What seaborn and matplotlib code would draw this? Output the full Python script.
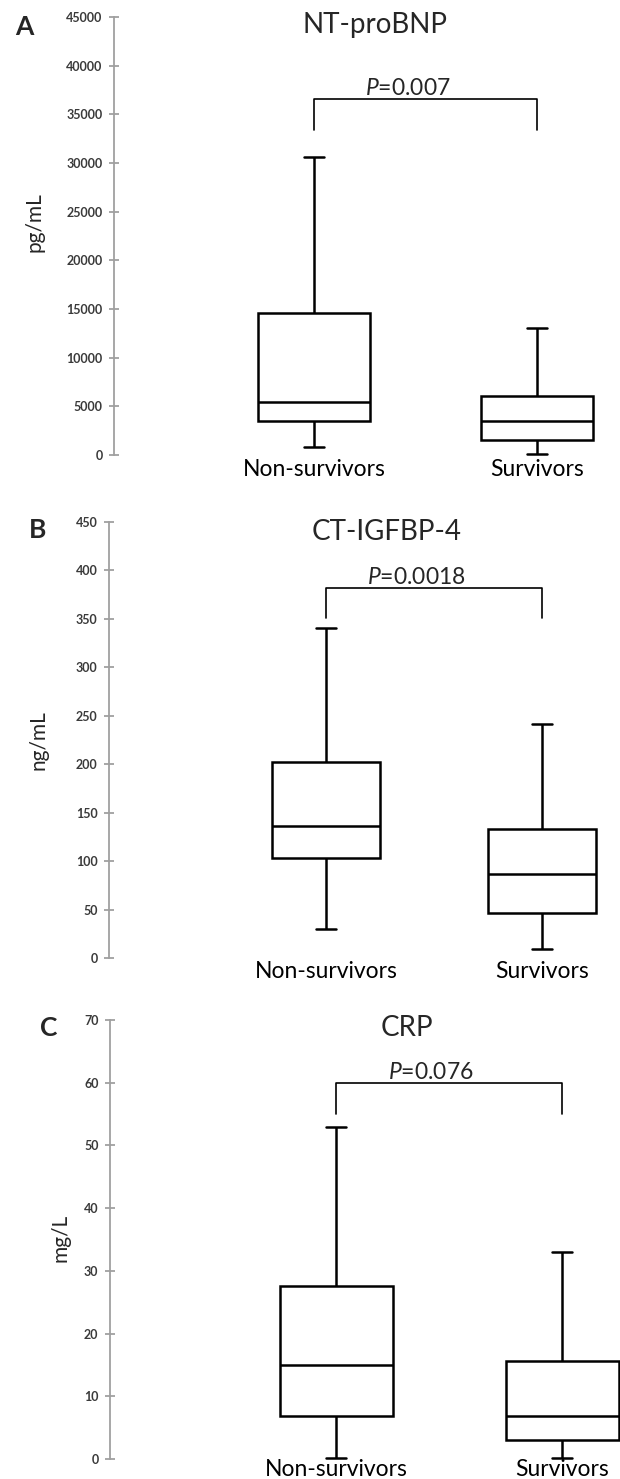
"""Box plots of NT-proBNP, CT-IGFBP-4 and CRP in non-survivors vs survivors."""
import matplotlib
matplotlib.use("Agg")
import matplotlib.pyplot as plt
import numpy as np
import pandas as pd
import seaborn as sns

# five-number summaries: min, q1, median, q3, max
groups = ["Non-survivors", "Survivors"]
ntprobnp_non = [790, 3530, 5450, 14600, 30600]
ntprobnp_surv = [100, 1540, 3500, 6100, 13000]
igfbp_non = [30, 103, 136, 202, 341]
igfbp_surv = [9, 46, 87, 133, 242]
crp_non = [0.2, 6.9, 15.0, 27.6, 53.0]
crp_surv = [0.2, 3.0, 6.9, 15.6, 33.0]

titles = ["NT-proBNP", "CT-IGFBP-4", "CRP"]
panel_letters = ["A", "B", "C"]
y_labels = ["pg/mL", "ng/mL", "mg/L"]
y_ticks = [np.arange(0, 45001, 5000), np.arange(0, 451, 50), np.arange(0, 71, 10)]
p_texts = ["0.007", "0.0018", "0.076"]
bracket_top = [36600, 382, 60]
bracket_bottom = [33400, 351, 55]

W, H = 620, 1479

sns.set_style("white")
plt.rcParams["font.family"] = ["Lato", "DejaVu Sans"]
plt.rcParams["mathtext.fontset"] = "custom"
plt.rcParams["mathtext.it"] = "Lato:italic"
plt.rcParams["mathtext.rm"] = "Lato"

fig = plt.figure(figsize=(W / 100, H / 100), dpi=100)

# per panel pixel layout: axis x, box centres, top / bottom of y axis
layout = [
    dict(axis=114, c0=314, c1=537, top=17, bottom=455, title=(375, 25), letter=(24, 27), ylab=(34, 222), xpad=3),
    dict(axis=109, c0=326, c1=542, top=522, bottom=958, title=(387, 532), letter=(38, 530), ylab=(39, 740), xpad=2),
    dict(axis=110, c0=336, c1=562, top=1020, bottom=1459, title=(407, 1028), letter=(49, 1028), ylab=(61, 1238), xpad=0),
]
series = [(ntprobnp_non, ntprobnp_surv), (igfbp_non, igfbp_surv), (crp_non, crp_surv)]

for i, lay in enumerate(layout):
    non, surv = series[i]
    df = pd.DataFrame({"group": np.repeat(groups, 5), "value": non + surv})
    ax = fig.add_axes([lay["axis"] / W, 1 - lay["bottom"] / H,
                       (W - lay["axis"]) / W, (lay["bottom"] - lay["top"]) / H])
    sns.boxplot(data=df, x="group", y="value", ax=ax, whis=(0, 100), width=0.5,
                color="white", linecolor="black", linewidth=1.8, showfliers=False)
    # short caps as in the original
    for cont in ax.containers:
        for cap in cont.caps:
            xd = np.asarray(cap.get_xdata(), dtype=float)
            c = xd.mean()
            cap.set_xdata([c - 0.045, c + 0.045])
        for art in list(cont.boxes) + list(cont.whiskers) + list(cont.caps) + list(cont.medians):
            art.set_clip_on(False)

    unit = lay["c1"] - lay["c0"]
    ax.set_xlim(-(lay["c0"] - lay["axis"]) / unit, 1 + (W - lay["c1"]) / unit)
    ax.set_ylim(y_ticks[i][0], y_ticks[i][-1])
    ax.set_yticks(y_ticks[i])
    ax.set_xlabel("")
    ax.set_ylabel("")

    for side in ["top", "right", "bottom"]:
        ax.spines[side].set_visible(False)
    ax.spines["left"].set_color("#a0a0a0")
    ax.spines["left"].set_linewidth(1.3)
    ax.tick_params(axis="y", left=True, direction="inout", length=6.5, width=1.3, color="#a0a0a0",
                   labelcolor="#3a3a3a", labelsize=9, pad=5)
    for lab in ax.get_yticklabels():
        lab.set_fontweight("bold")
    ax.tick_params(axis="x", bottom=False, length=0, labelsize=16.5, labelcolor="black", pad=lay["xpad"])

    # significance bracket
    ax.plot([0, 0, 1, 1], [bracket_bottom[i], bracket_top[i], bracket_top[i], bracket_bottom[i]],
            color="black", linewidth=1.2, clip_on=False)
    ax.text(0.42, bracket_top[i], r"$\mathit{P}$=" + p_texts[i], ha="center", va="bottom",
            fontsize=16.5, transform=ax.transData)

    fig.text(lay["title"][0] / W, 1 - lay["title"][1] / H, titles[i], ha="center", va="center", fontsize=20)
    fig.text(lay["letter"][0] / W, 1 - lay["letter"][1] / H, panel_letters[i], ha="center", va="center",
             fontsize=19, fontweight="bold")
    fig.text(lay["ylab"][0] / W, 1 - lay["ylab"][1] / H, y_labels[i], ha="center", va="center",
             rotation=90, fontsize=15)

fig.savefig("out.png", dpi=100)
